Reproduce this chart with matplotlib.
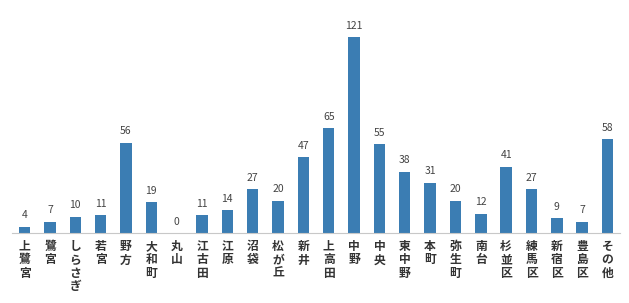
import matplotlib.pyplot as plt

plt.rcParams['font.family'] = ['Noto Sans CJK JP', 'DejaVu Sans']

# 地区ごとの件数
areas = ["上鷺宮", "鷺宮", "しらさぎ", "若宮", "野方", "大和町", "丸山", "江古田",
         "江原", "沼袋", "松が丘", "新井", "上高田", "中野", "中央", "東中野",
         "本町", "弥生町", "南台", "杉並区", "練馬区", "新宿区", "豊島区", "その他"]
counts = [4, 7, 10, 11, 56, 19, 0, 11, 14, 27, 20, 47, 65, 121, 55, 38,
          31, 20, 12, 41, 27, 9, 7, 58]

fig = plt.figure(figsize=(6.29, 3.03), dpi=100)
ax = fig.add_axes([0.019, 0.231, 0.967, 0.736])

x = range(len(areas))
bars = ax.bar(x, counts, width=0.45, color='#3b7db3')

# 値ラベル
for xi, v in zip(x, counts):
    ax.text(xi, v + 4, str(v), ha='center', va='bottom', fontsize=7.5, color='#444444')

# 縦書きラベル
ax.set_xticks(list(x))
ax.set_xticklabels(["\n".join(a) for a in areas], fontsize=8.5, linespacing=1.05,
                   va='top', color='#333333', fontweight='bold')
ax.tick_params(axis='x', length=0, pad=5)

ax.set_xlim(-0.5, len(areas) - 0.5)
ax.set_ylim(0, 138)
ax.set_yticks([])
for side in ['top', 'right', 'left']:
    ax.spines[side].set_visible(False)
ax.spines['bottom'].set_color('#c8c8c8')

fig.savefig('out.png', dpi=100)
